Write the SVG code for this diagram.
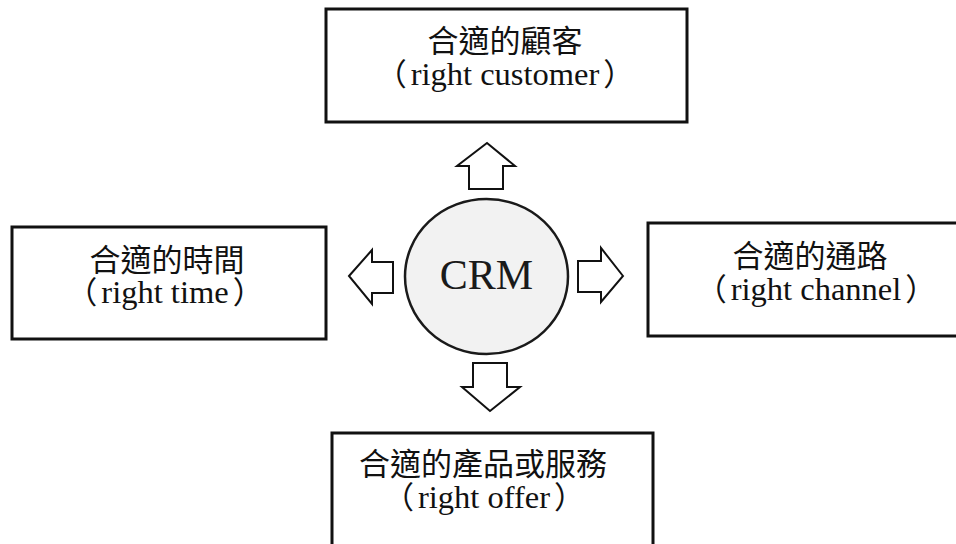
<svg xmlns="http://www.w3.org/2000/svg" width="956" height="544" viewBox="0 0 956 544">
  <style>
    .box { fill: #ffffff; stroke: #111111; stroke-width: 3; }
    .arrow { fill: #ffffff; stroke: #111111; stroke-width: 2; stroke-linejoin: miter; }
    .hub { fill: #f2f2f2; stroke: #1a1a1a; stroke-width: 2.5; }
    .label { font-family: "Liberation Serif", "Noto Sans CJK TC", serif; font-size: 31px; fill: #111111; text-anchor: middle; }
    .sub { font-size: 32.5px; }
    .paren { font-family: "Noto Sans CJK TC", sans-serif; font-size: 31px; }
    .hub-text { font-family: "Liberation Serif", "Times New Roman", serif; font-size: 42px; fill: #1a1a1a; text-anchor: middle; }
  </style>
  <rect width="956" height="544" fill="#ffffff"/>

  <!-- central CRM hub -->
  <g id="node-crm">
    <ellipse class="hub" cx="486.5" cy="276.5" rx="81.5" ry="77.5"/>
    <text class="hub-text" x="486.5" y="289">CRM</text>
  </g>

  <!-- block arrows pointing outward from the hub -->
  <g id="connectors">
    <polygon class="arrow" points="487,143 515,166 503,166 503,189 469,189 469,166 457,166"/>
    <polygon class="arrow" points="349,276 372,250 372,262 393,262 393,293 372,293 372,304"/>
    <polygon class="arrow" points="623,276 601,248 601,261 578,261 578,292 601,292 601,302"/>
    <polygon class="arrow" points="490,411 520,387 507,387 507,363 473,363 473,387 462,387"/>
  </g>

  <g id="node-customer">
    <rect class="box" x="326" y="9" width="361" height="113"/>
    <text class="label" x="505" y="52">合適的顧客</text>
    <text class="label sub" x="505" y="85"><tspan class="paren">（</tspan><tspan dx="4">right customer</tspan><tspan class="paren" dx="4">）</tspan></text>
  </g>

  <g id="node-time">
    <rect class="box" x="12" y="227" width="314" height="112"/>
    <text class="label" x="167" y="271">合適的時間</text>
    <text class="label sub" x="165" y="303"><tspan class="paren">（</tspan><tspan dx="4">right time</tspan><tspan class="paren" dx="4">）</tspan></text>
  </g>

  <g id="node-channel">
    <rect class="box" x="648" y="223" width="320" height="113"/>
    <text class="label" x="810" y="267">合適的通路</text>
    <text class="label sub" x="816" y="300"><tspan class="paren">（</tspan><tspan dx="4">right channel</tspan><tspan class="paren" dx="4">）</tspan></text>
  </g>

  <g id="node-offer">
    <rect class="box" x="332" y="433" width="321" height="130"/>
    <text class="label" x="483" y="475">合適的產品或服務</text>
    <text class="label sub" x="484" y="508"><tspan class="paren">（</tspan><tspan dx="4">right offer</tspan><tspan class="paren" dx="4">）</tspan></text>
  </g>
</svg>
